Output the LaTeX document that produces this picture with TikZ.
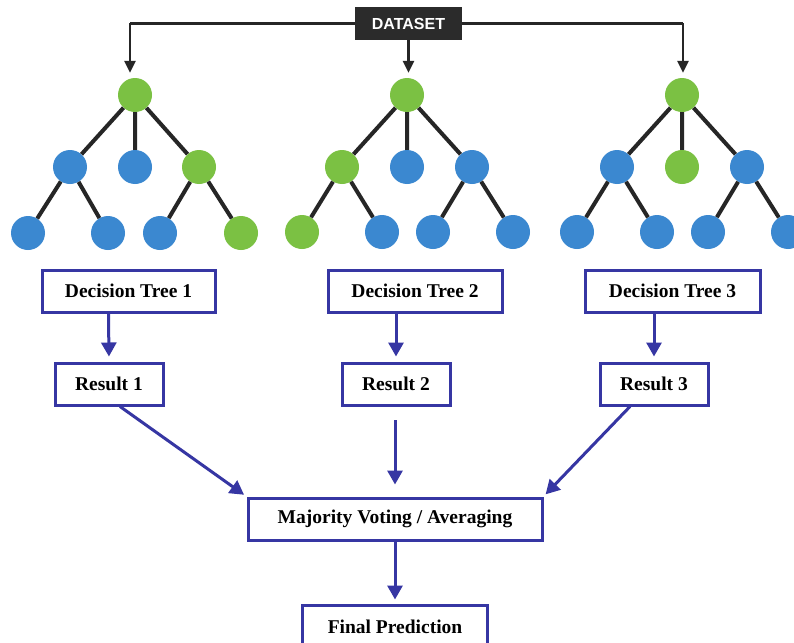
\documentclass[tikz,border=0pt]{standalone}
\usepackage{fontspec}
\setmainfont{Liberation Serif}
\newfontfamily\dsfont{Liberation Sans}
\usetikzlibrary{arrows.meta}
\definecolor{tgreen}{HTML}{7BC143}
\definecolor{tblue}{HTML}{3B88D0}
\definecolor{bxblue}{HTML}{3636A3}
\definecolor{edgec}{HTML}{262626}
\definecolor{dsbg}{HTML}{2B2B2B}
\tikzset{
  gn/.style={circle,fill=tgreen,minimum size=34,inner sep=0},
  bn/.style={circle,fill=tblue,minimum size=34,inner sep=0},
  tedge/.style={edgec,line width=4},
  rbox/.style={draw=bxblue,line width=3,fill=white,inner sep=0,
    font=\fontsize{19.5}{22}\selectfont\bfseries},
  arr/.style={bxblue,line width=3,-{Triangle[length=14,width=15]}},
  darr/.style={edgec,line width=2.5,-{Triangle[length=12,width=11]}}
}
\begin{document}
\begin{tikzpicture}[x=1pt,y=-1pt]
\clip (0,0) rectangle (794,642);
\fill[white] (0,0) rectangle (794,642);
% dataset
\node[fill=dsbg,text=white,minimum width=107,minimum height=33,inner sep=0,
  font=\dsfont\fontsize{16}{18}\selectfont\bfseries] (ds) at (408.5,23.5) {DATASET};
% tree 1
\node[gn] (a0) at (135,95) {};
\node[bn] (a1) at (70,167) {};
\node[bn] (a2) at (135,167) {};
\node[gn] (a3) at (199,167) {};
\node[bn] (a4) at (28,233) {};
\node[bn] (a5) at (108,233) {};
\node[bn] (a6) at (160,233) {};
\node[gn] (a7) at (241,233) {};
% tree 2
\node[gn] (b0) at (407,95) {};
\node[gn] (b1) at (342,167) {};
\node[bn] (b2) at (407,167) {};
\node[bn] (b3) at (472,167) {};
\node[gn] (b4) at (302,232) {};
\node[bn] (b5) at (382,232) {};
\node[bn] (b6) at (433,232) {};
\node[bn] (b7) at (513,232) {};
% tree 3
\node[gn] (c0) at (682,95) {};
\node[bn] (c1) at (617,167) {};
\node[gn] (c2) at (682,167) {};
\node[bn] (c3) at (747,167) {};
\node[bn] (c4) at (577,232) {};
\node[bn] (c5) at (657,232) {};
\node[bn] (c6) at (708,232) {};
\node[bn] (c7) at (788,232) {};
\foreach \t in {a,b,c}{
  \draw[tedge] (\t0) -- (\t1) (\t0) -- (\t2) (\t0) -- (\t3)
    (\t1) -- (\t4) (\t1) -- (\t5) (\t3) -- (\t6) (\t3) -- (\t7);
}
% dataset connectors
\coordinate (dl) at (130,23.5);
\coordinate (dr) at (683,23.5);
\draw[edgec,line width=2.5] (ds.west) -- (dl);
\draw[edgec,line width=2.5] (ds.east) -- (dr);
\draw[darr,shorten >=5] (dl) -- (dl |- a0.north);
\draw[darr,shorten >=5] (ds.south) -- (ds.south |- b0.north);
\draw[darr,shorten >=5] (dr) -- (dr |- c0.north);
% boxes
\node[rbox,minimum width=173,minimum height=42] (dt1) at (128.5,291) {Decision Tree 1};
\node[rbox,minimum width=174,minimum height=42] (dt2) at (415,291) {Decision Tree 2};
\node[rbox,minimum width=175,minimum height=42] (dt3) at (672.5,291) {Decision Tree 3};
\node[rbox,minimum width=108,minimum height=42] (r1) at (109,384) {Result 1};
\node[rbox,minimum width=108,minimum height=42] (r2) at (396,384) {Result 2};
\node[rbox,minimum width=108,minimum height=42] (r3) at (654,384) {Result 3};
\node[rbox,minimum width=294,minimum height=42] (maj) at (395,519) {Majority Voting / Averaging};
\node[rbox,minimum width=185,minimum height=44] (fin) at (395,627) {Final Prediction};
% arrows
\draw[arr,shorten >=5] ([xshift=-20]dt1.south) -- (r1.north);
\draw[arr,shorten >=5] (dt2.south -| r2) -- (r2.north);
\draw[arr,shorten >=5] (dt3.south -| r3) -- (r3.north);
\draw[arr,shorten >=3] ([xshift=11]r1.south) -- (maj.north west);
\coordinate (m2) at (395,420);
\draw[arr,shorten >=12] (m2) -- (maj.north);
\draw[arr,shorten >=3] ([xshift=-24]r3.south) -- (maj.north east);
\draw[arr,shorten >=4] (maj.south) -- (fin.north);
\end{tikzpicture}
\end{document}
